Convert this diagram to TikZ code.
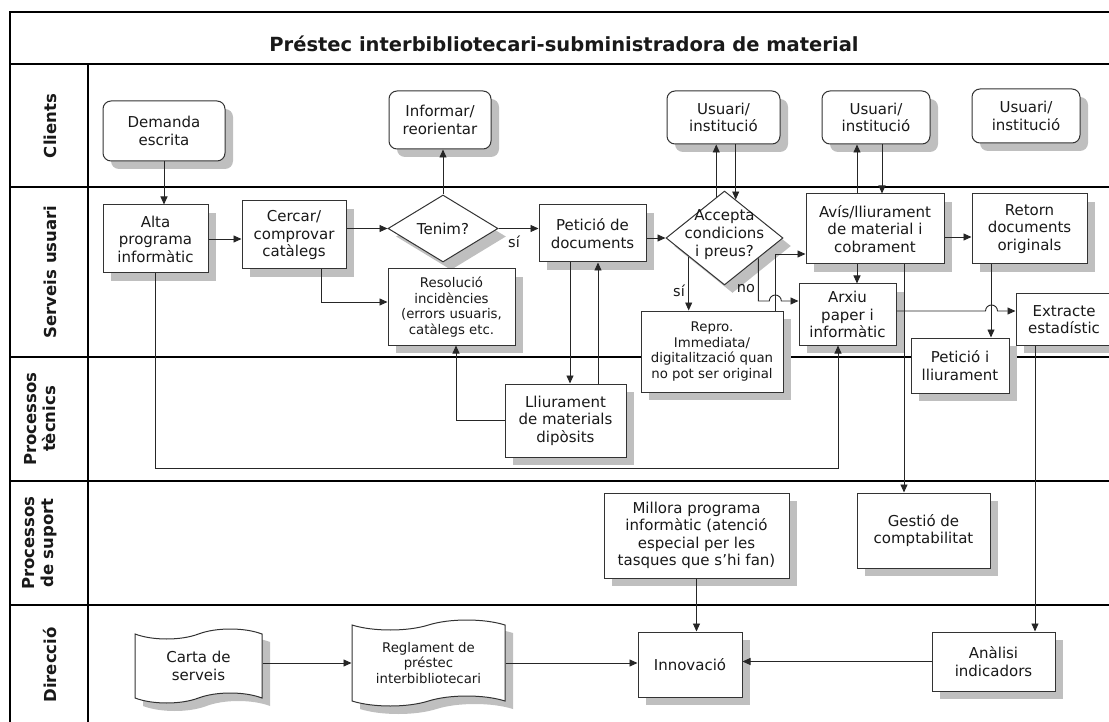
\documentclass[tikz,border=0pt]{standalone}
\usepackage{fontspec}
\setmainfont{DejaVu Sans}
\usetikzlibrary{arrows.meta,shapes.geometric,shapes.symbols,shadows,calc}

\begin{document}
\begin{tikzpicture}[x=1pt,y=-1pt,
  every node/.style={font=\fontsize{15}{17.5}\selectfont, text=black!90},
  lane/.style={line width=2.2pt, draw=black},
  lanelabel/.style={rotate=90, font=\bfseries\fontsize{16.5}{19}\selectfont, align=center},
  shadowed/.style={drop shadow={shadow xshift=8pt, shadow yshift=-8pt, opacity=1, fill=black!25}},
  box/.style={rectangle, draw=black!80, line width=1pt, fill=white, align=center, inner sep=0pt, shadowed},
  rbox/.style={box, rounded corners=8pt},
  decision/.style={diamond, draw=black!80, line width=1pt, fill=white, inner sep=0pt, shadowed},
  doc/.style={tape, tape bend top=in and out, tape bend bottom=in and out, tape bend height=10pt,
    draw=black!80, line width=1pt, fill=white, align=center, inner sep=0pt, shadowed},
  small/.style={font=\fontsize{13.3}{15.8}\selectfont},
  arr/.style={draw=black!85, line width=0.9pt, -{Triangle[length=8pt,width=7pt]}},
  lbl/.style={font=\fontsize{14.5}{16}\selectfont}
]
\useasboundingbox (0,0) rectangle (1109,722);
\clip (0,0) rectangle (1109,722);

% frame and swim lanes
\draw[lane] (10,730) -- (10,12) -- (1120,12);
\draw[lane] (10,64) -- (1120,64);
\foreach \y in {187,357,481,605} \draw[lane] (10,\y) -- (1120,\y);
\draw[lane] (88,64) -- (88,730);

\node[font=\bfseries\fontsize{19.5}{22}\selectfont] (title) at (564,44)
  {Préstec interbibliotecari-subministradora de material};

\node[lanelabel] (lC) at (50,126) {Clients};
\node[lanelabel] (lS) at (50,272) {Serveis usuari};
\node[lanelabel] (lT) at (40,419) {Processos\\tècnics};
\node[lanelabel] (lP) at (40,543) {Processos\\de suport};
\node[lanelabel] (lD) at (50,665) {Direcció};

% Clients
\node[rbox, minimum width=122pt, minimum height=60pt] (dem) at (164,131) {Demanda\\escrita};
\node[rbox, minimum width=102pt, minimum height=58pt] (inf) at (440,120) {Informar/\\reorientar};
\node[rbox, minimum width=113pt, minimum height=53pt] (ua1) at (723.5,117.5) {Usuari/\\institució};
\node[rbox, minimum width=108pt, minimum height=53pt] (ua2) at (876,117.5) {Usuari/\\institució};
\node[rbox, minimum width=108pt, minimum height=54pt] (ua3) at (1026,116) {Usuari/\\institució};

% Serveis usuari
\node[box, minimum width=105pt, minimum height=68pt] (alta) at (155.5,239) {Alta\\programa\\informàtic};
\node[box, minimum width=104pt, minimum height=68pt] (cerc) at (294,235) {Cercar/\\comprovar\\catàlegs};
\node[decision, minimum width=110pt, minimum height=67pt] (ten) at (443,228.5) {};
\node (tenT) at (443,228.5) {Tenim?};
\node[box, small, minimum width=127pt, minimum height=76pt] (res) at (451.5,307)
  {Resolució\\incidències\\(errors usuaris,\\catàlegs etc.};
\node[box, minimum width=107pt, minimum height=57pt] (pet) at (592.5,233.5) {Petició de\\documents};
\node[decision, minimum width=117pt, minimum height=94pt] (acc) at (724.5,238) {};
\node[align=center, font=\fontsize{15}{18}\selectfont] (accT) at (724.5,235) {Accepta\\condicions\\i preus?};
\node[box, small, minimum width=142pt, minimum height=81pt] (rep) at (712,351.5)
  {Repro.\\Immediata/\\digitalització quan\\no pot ser original};
\node[box, minimum width=138pt, minimum height=70pt] (avis) at (875,229) {Avís/lliurament\\de material i\\cobrament};
\node[box, minimum width=115pt, minimum height=70pt] (ret) at (1029.5,229) {Retorn\\documents\\originals};
\node[box, minimum width=97pt, minimum height=61pt] (arx) at (847.5,314.5) {Arxiu\\paper i\\informàtic};
\node[box, minimum width=96pt, minimum height=51pt] (ext) at (1064,319.5) {Extracte\\estadístic};
\node[box, minimum width=98pt, minimum height=55pt] (pil) at (960,365.5) {Petició i\\lliurament};

% Processos tècnics
\node[box, minimum width=121pt, minimum height=73pt] (lliu) at (565.5,420.5) {Lliurament\\de materials\\dipòsits};

% Processos de suport
\node[box, minimum width=185pt, minimum height=85pt] (mil) at (696.5,535.5)
  {Millora programa\\informàtic (atenció\\especial per les\\tasques que s’hi fan)};
\node[box, minimum width=133pt, minimum height=75pt] (ges) at (923.5,530.5) {Gestió de\\comptabilitat};

% Direcció
\node[doc, minimum width=127pt, minimum height=74pt] (carta) at (198.5,666) {Carta de\\serveis};
\node[doc, small, minimum width=153pt, minimum height=86pt] (regl) at (428.5,663)
  {Reglament de\\préstec\\interbibliotecari};
\node[box, minimum width=104pt, minimum height=65pt] (inn) at (690,664.5) {Innovació};
\node[box, minimum width=123pt, minimum height=59pt] (ana) at (993.5,661.5) {Anàlisi\\indicadors};

% connectors
\draw[arr] (dem.south) -- (dem.south |- alta.north);
\draw[arr] (alta.east) -- (alta.east -| cerc.west);
\draw[arr] (cerc.east |- ten.west) -- (ten.west);
\draw[arr] (ten.north) -- (ten.north |- inf.south);
\draw[arr] (ten.east) -- (ten.east -| pet.west);
\node[lbl] (si1) at (514,242) {sí};
\draw[arr] ([xshift=27pt]cerc.south) |- ([yshift=5pt]res.west);
\draw[arr] (pet.east |- acc.west) -- (acc.west);

\coordinate (a1) at ($(acc.north)!0.14!(acc.west)$);
\coordinate (a2) at ($(acc.north)!0.19!(acc.east)$);
\draw[arr] (a1) -- (a1 |- ua1.south);
\draw[arr] (a2 |- ua1.south) -- (a2);

\coordinate (a3) at ($(acc.south)!0.607!(acc.west)$);
\draw[arr] (a3) -- (a3 |- rep.north);
\node[lbl] (si2) at (679,291) {sí};

\coordinate (a4) at ($(acc.south)!0.573!(acc.east)$);
\coordinate (a5) at ([yshift=13.5pt]arx.west);
\draw[arr] (a4) -- (a4 |- a5) -- ++(11,0) arc[start angle=180, end angle=0, radius=6pt] -- (a5);
\node[lbl] (no1) at (746,289) {no};

\coordinate (r1) at ([xshift=63pt]rep.north);
\draw[arr] (r1) |- ([yshift=-25pt]avis.west);

\coordinate (v1) at ([xshift=-18pt]avis.north);
\coordinate (v2) at ([xshift=7pt]avis.north);
\draw[arr] (v1) -- (v1 |- ua2.south);
\draw[arr] (v2 |- ua2.south) -- (v2);

\draw[arr] ([yshift=-8pt]avis.east) -- ([yshift=-8pt]ret.west);

\coordinate (v3) at ([xshift=-18pt]avis.south);
\draw[arr] (v3) -- (v3 |- arx.north);
\coordinate (v4) at ([xshift=29pt]avis.south);
\draw[arr] (v4) -- (v4 |- ges.north);
\coordinate (v5) at ([xshift=-38.5pt]ret.south);
\draw[arr] (v5) -- (v5 |- pil.north);

\coordinate (x1) at ([yshift=3.5pt]arx.east);
\coordinate (x2) at ([yshift=8.5pt]ext.west);
\draw[arr] (x1) -- ++(89,0) arc[start angle=180, end angle=0, radius=6pt] -- (x2);

\coordinate (v6) at ([xshift=-29pt]ext.south);
\draw[arr] (v6) -- (v6 |- ana.north);

\coordinate (v7) at ([xshift=-9.5pt]arx.south);
\draw[arr] (alta.south) -- ++(0,195) -| (v7);

\coordinate (v8) at ([xshift=-22.5pt]pet.south);
\coordinate (v9) at ([xshift=32.5pt]lliu.north);
\draw[arr] (v8) -- (v8 |- lliu.north);
\draw[arr] (v9) -- (v9 |- pet.south);

\draw[arr] (lliu.west) -| ([xshift=4.5pt]res.south);

\draw[arr] (mil.south) -- (mil.south |- inn.north);
\draw[arr] (ana.west) -- (ana.west -| inn.east);
\coordinate (d1) at ([yshift=3pt]carta.east);
\draw[arr] (d1) -- (d1 -| regl.west);
\draw[arr] (regl.east) -- (regl.east -| inn.west);
\end{tikzpicture}
\end{document}
